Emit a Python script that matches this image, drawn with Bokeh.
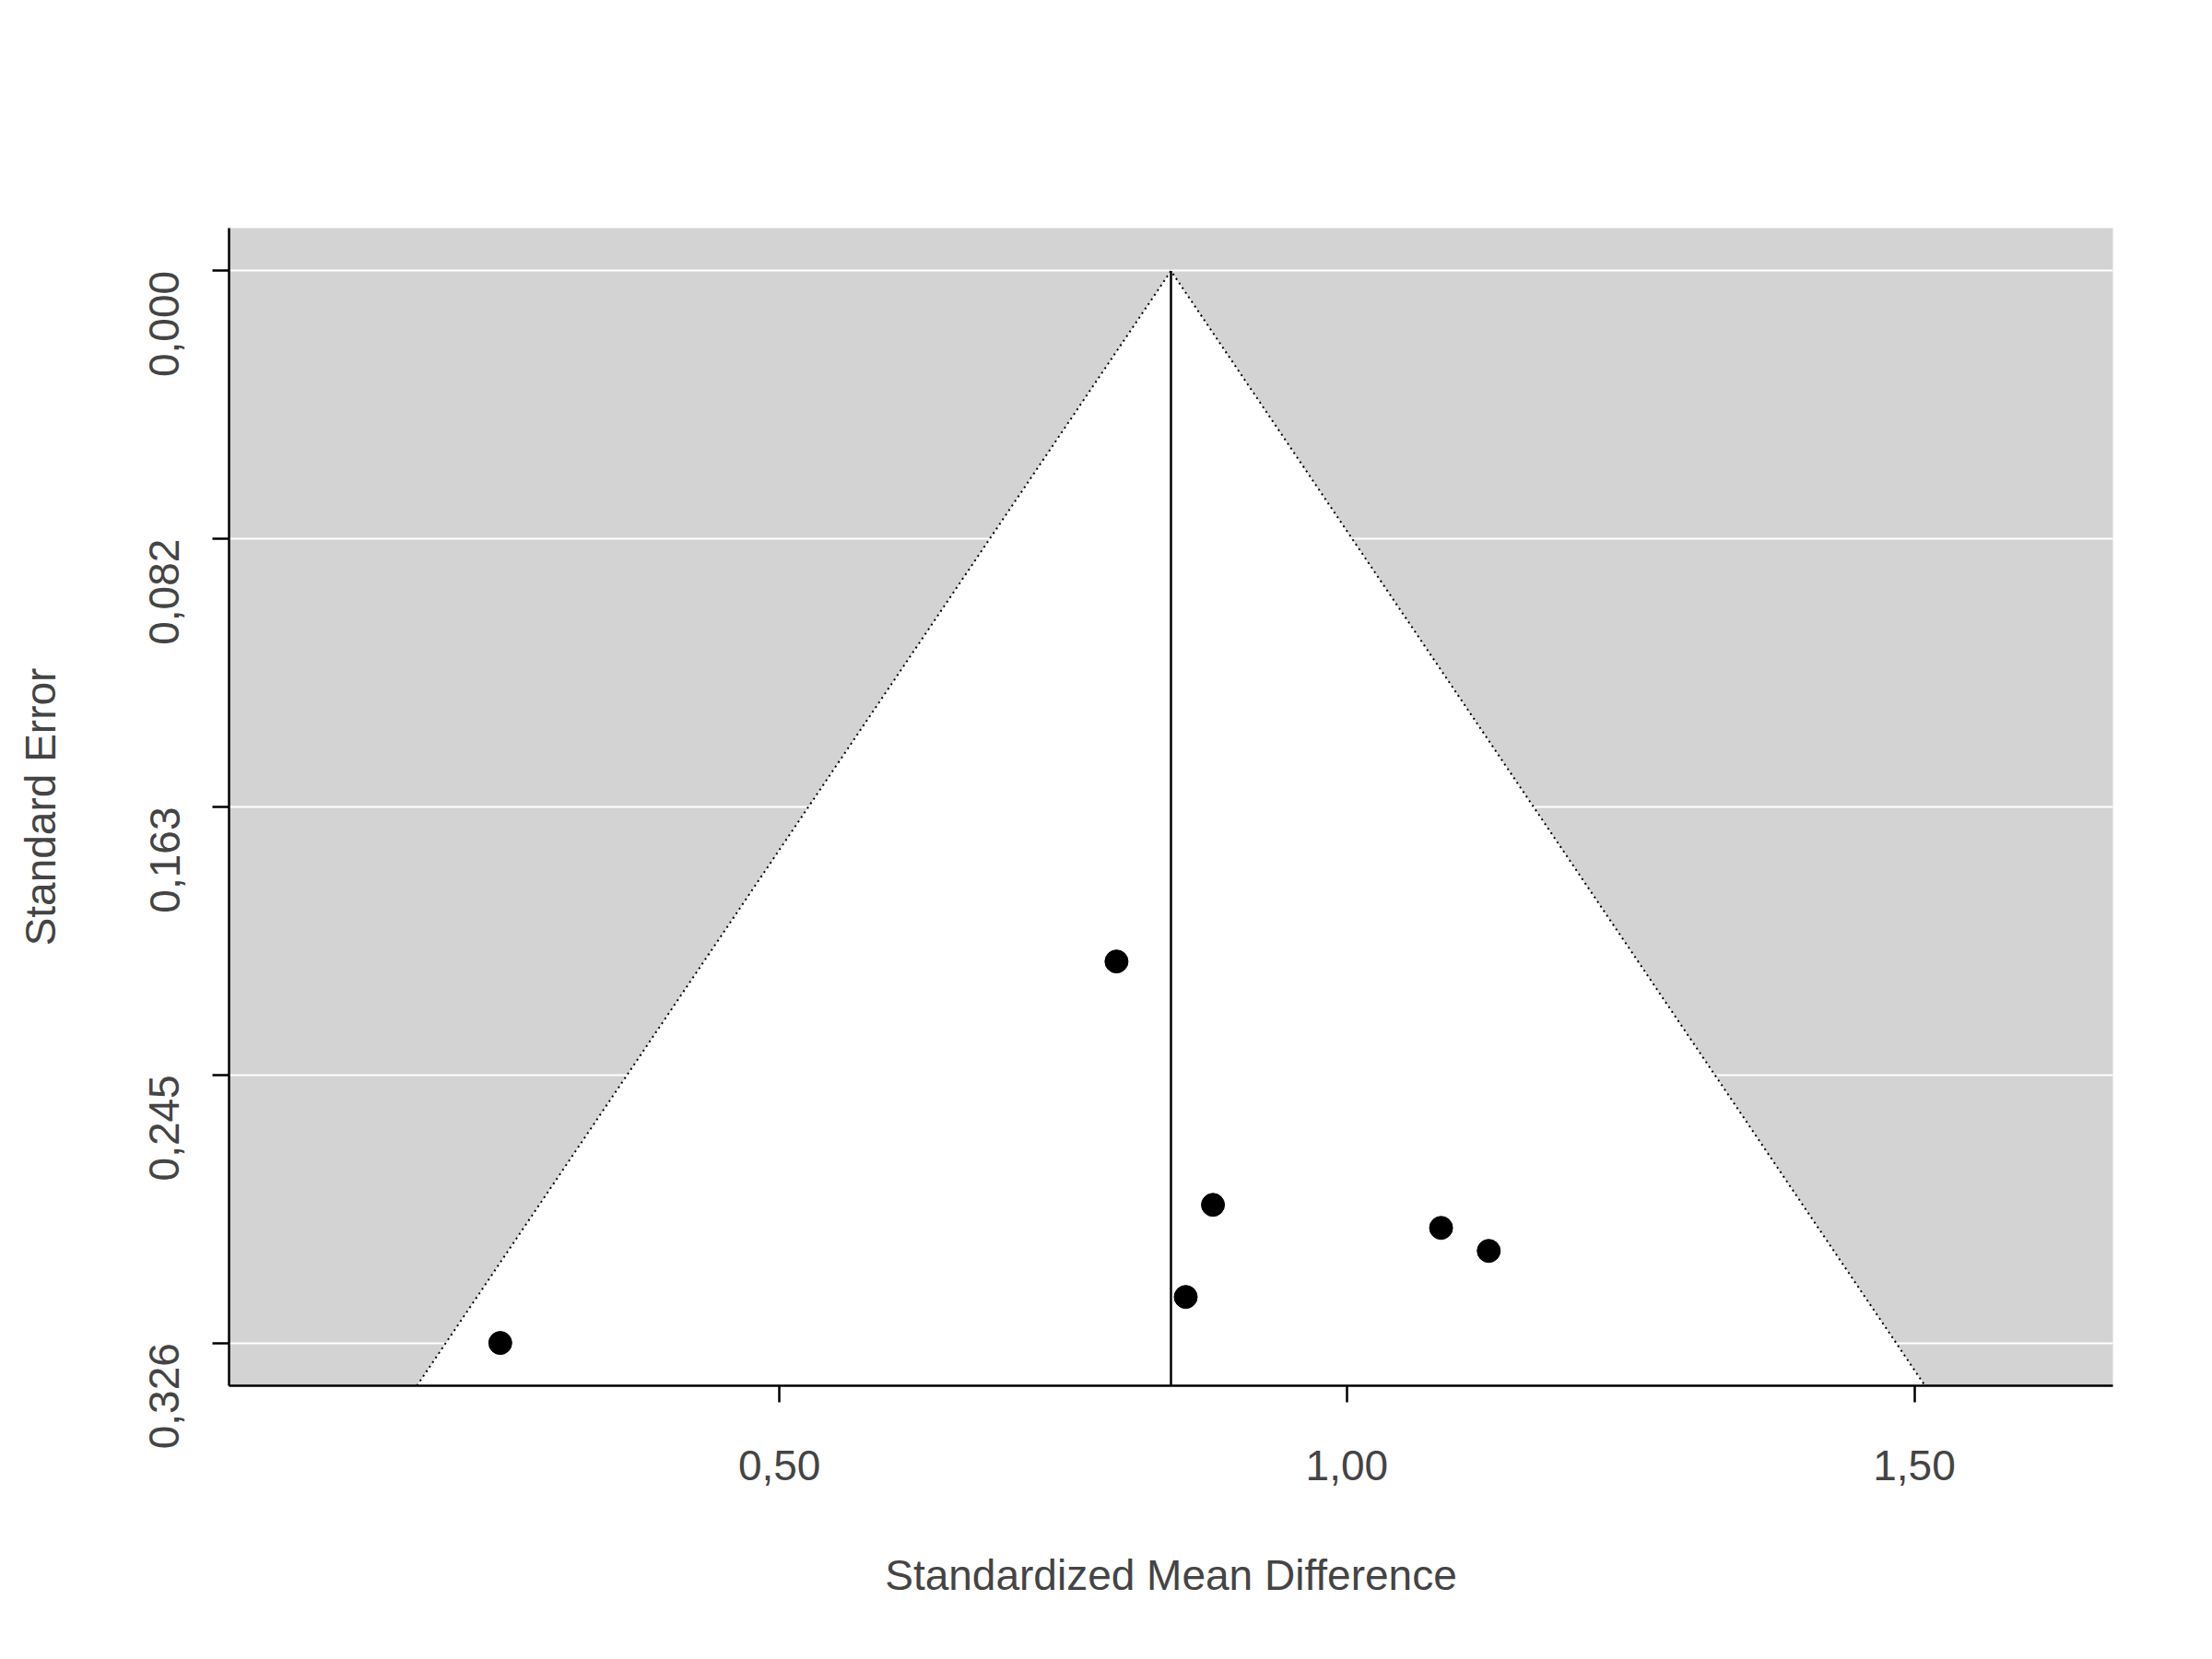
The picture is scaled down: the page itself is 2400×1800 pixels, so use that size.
import math
from bokeh.plotting import figure
from bokeh.models import FixedTicker, Range1d
from bokeh.embed import file_html
from bokeh.resources import INLINE

smd = [0.797, 0.882, 1.083, 1.125, 0.858, 0.254]
se = [0.210, 0.284, 0.291, 0.298, 0.312, 0.326]
estimate = 0.845
y_ticks = [0.0, 0.0815, 0.163, 0.2445, 0.326]
y_labels = ["0,000", "0,082", "0,163", "0,245", "0,326"]
x_ticks = [0.5, 1.0, 1.5]
x_labels = ["0,50", "1,00", "1,50"]

FONT = "Liberation Sans"
se_max = 0.339

p = figure(width=2380, height=1780, output_backend="svg", toolbar_location=None,
           x_range=Range1d(0.015, 1.675), y_range=Range1d(se_max, -0.013),
           min_border_left=248, min_border_right=88, min_border_top=247, min_border_bottom=277,
           x_axis_label="Standardized Mean Difference", y_axis_label="Standard Error")
p.outline_line_color = None
p.background_fill_color = "#d3d3d3"
p.xgrid.grid_line_color = None
p.ygrid.grid_line_color = "white"
p.ygrid.grid_line_width = 2

# funnel region
half = 1.96 * se_max
p.patch([estimate - half, estimate, estimate + half], [se_max, 0, se_max],
        fill_color="white", line_color=None)
p.line([estimate - half, estimate, estimate + half], [se_max, 0, se_max],
       line_color="black", line_width=2, line_dash="dotted")
p.line([estimate, estimate], [0, se_max], line_color="black", line_width=2.5)
p.scatter(smd, se, size=25, fill_color="black", line_color="black")

for ax in (p.xaxis[0], p.yaxis[0]):
    ax.axis_line_width = 2.5
    ax.major_tick_line_width = 2.5
    ax.major_tick_out = 18
    ax.major_tick_in = 0
    ax.minor_tick_line_color = None
    ax.major_label_text_font = FONT
    ax.major_label_text_font_size = "46px"
    ax.axis_label_text_font = FONT
    ax.axis_label_text_font_size = "46px"
    ax.axis_label_text_font_style = "normal"
    ax.major_label_standoff = 52
    ax.axis_label_standoff = 74

p.xaxis.ticker = FixedTicker(ticks=x_ticks)
p.xaxis.major_label_overrides = dict(zip(x_ticks, x_labels))
p.yaxis.ticker = FixedTicker(ticks=y_ticks)
p.yaxis.major_label_overrides = dict(zip(y_ticks, y_labels))
p.yaxis.major_label_orientation = math.pi / 2

open("out.html", "w").write(file_html(p, INLINE))
